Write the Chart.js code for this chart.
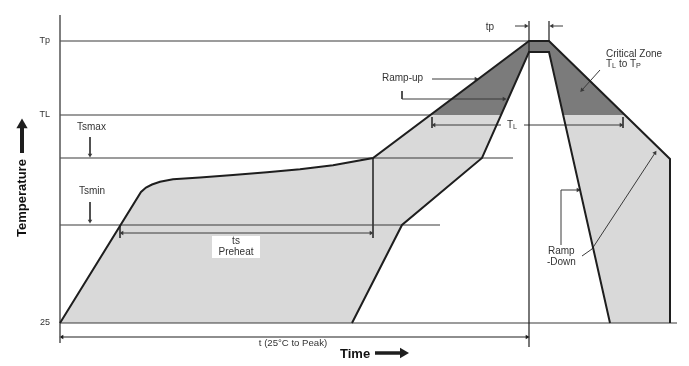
<!DOCTYPE html>
<html>
<head>
<meta charset="utf-8">
<script src="https://cdn.jsdelivr.net/npm/chart.js@4/dist/chart.umd.min.js"></script>
<style>
  html, body { margin: 0; padding: 0; background: #fff; }
</style>
</head>
<body>
<canvas id="profile" width="689" height="366"></canvas>
<script>
// schematic reflow profile: time in arbitrary units from the 25 °C start, temperature in arbitrary degrees
const T25 = 25, TSMIN = 123, TSMAX = 190, TL = 233, TP = 307;
const tPeakStart = 469, tPeakEnd = 489;

// upper (max) profile
const outerProfile = [[0, 25], [81, 156], [86, 160.5], [92, 163.5], [100, 166.3], [113, 168.8], [140, 170.5],
  [173, 173], [207, 175.7], [240, 178.7], [273, 182.7], [313, 190], [469, 307], [489, 307], [610, 189], [610, 25]];
// lower (min) profile
const innerProfile = [[292, 25], [342, 123], [422, 190], [469, 296], [489, 296], [550, 25]];
// part of the band between TL and Tp
const criticalZone = [[370, 233], [469, 307], [489, 307], [565, 233], [503, 233], [489, 296], [469, 296], [441, 233]];

// level lines: [temperature, end time]
const levelLines = [[TP, 469], [TL, 370], [TSMAX, 453], [TSMIN, 380], [T25, 617]];

const axisLine = [[0, 333], [0, 5]];
const peakLine = [[tPeakStart, 327], [tPeakStart, 1]];
const peakEndLine = [[tPeakEnd, 327], [tPeakEnd, 307]];
const tsMarks = [[[60, 123], [60, 110]], [[313, 190], [313, 110]]];
const tsArrow = [[62, 115], [311, 115]];
const tlMarks = [[[372, 231], [372, 220]], [[563, 231], [563, 220]]];
const tlArrow = [[374, 223], [561, 223]];
const tpArrows = [[[455, 322], [466, 322]], [[503, 322], [492, 322]]];
const totalArrow = [[2, 11], [467, 11]];
const rampUpArrow = [[372, 269], [416, 269]];
const rampUpBracket = [[342, 257], [342, 249], [444, 249]];
const criticalArrow = [[540, 278], [522, 258]];
const rampDownBracket = [[501, 103], [501, 158], [518, 158]];
const rampDownArrow = [[522, 92], [532, 99], [595, 195]];
const tsmaxArrow = [[30, 211], [30, 193]];
const tsminArrow = [[30, 146], [30, 127]];
const timeArrow = [[315, -5], [343, -5]];
const tempArrow = [[-38, 195], [-38, 223]];

const xy = pts => pts.map(([x, y]) => ({x, y}));

function area(points, color, order) {
  return {
    data: xy([...points, points[0]]),
    fill: 'shape',
    backgroundColor: color,
    borderColor: 'rgba(0,0,0,0)',
    borderWidth: 0,
    order
  };
}

function stroke(points, width, color, order, heads = [], head = 2.6) {
  return {
    data: xy(points),
    fill: false,
    borderColor: color,
    borderWidth: width,
    order,
    pointStyle: 'triangle',
    pointRadius: points.map((_, i) => heads[i] == null ? 0 : head),
    pointRotation: points.map((_, i) => heads[i] ?? 0),
    pointBackgroundColor: color,
    pointBorderWidth: 0
  };
}

const INK = '#1e1e1e', THIN = '#3a3a3a';

const datasets = [
  stroke(outerProfile, 2, INK, 1),
  stroke(innerProfile, 2, INK, 1),
  stroke(axisLine, 1.5, '#555', 2),
  stroke(peakLine, 1.2, INK, 2),
  stroke(peakEndLine, 1.2, INK, 2),
  ...levelLines.map(([T, end]) => stroke([[0, T], [end, T]], 1.2, THIN, 4)),
  ...tsMarks.map(m => stroke(m, 1, THIN, 3)),
  stroke(tsArrow, 1, THIN, 3, [270, 90]),
  ...tlMarks.map(m => stroke(m, 1, THIN, 3)),
  stroke(tlArrow, 1, THIN, 3, [270, 90]),
  ...tpArrows.map((a, i) => stroke(a, 1, THIN, 3, [null, i ? 270 : 90])),
  stroke(totalArrow, 1.2, INK, 3, [270, 90]),
  stroke(rampUpArrow, 1, THIN, 3, [null, 90]),
  stroke(rampUpBracket, 1, THIN, 3, [null, null, 90]),
  stroke(criticalArrow, 1, THIN, 3, [null, 222]),
  stroke(rampDownBracket, 1, THIN, 3, [null, null, 90]),
  stroke(rampDownArrow, 1, THIN, 3, [null, null, 33]),
  stroke(tsmaxArrow, 1, THIN, 3, [null, 180]),
  stroke(tsminArrow, 1, THIN, 3, [null, 180]),
  stroke(timeArrow, 3.5, INK, 3, [null, 90], 6),
  stroke(tempArrow, 4, INK, 3, [null, 0], 6.5),
  area(criticalZone, '#7b7b7b', 8),
  area(innerProfile, '#ffffff', 9),
  area(outerProfile, '#d9d9d9', 10)
];

// text: '_x' parts are subscripts
const notes = [
  {t: -10, T: TP, text: ['Tp'], size: 9, align: 'right'},
  {t: -10, T: TL, text: ['TL'], size: 9, align: 'right'},
  {t: -10, T: T25, text: ['25'], size: 9, align: 'right'},
  {t: 17, T: 221, text: ['Tsmax'], size: 10},
  {t: 19, T: 157, text: ['Tsmin'], size: 10},
  {t: 176, T: 107, text: ['ts'], size: 10, align: 'center', box: [152, 112, 200, 90]},
  {t: 176, T: 96, text: ['Preheat'], size: 10, align: 'center'},
  {t: 322, T: 270, text: ['Ramp-up'], size: 10},
  {t: 430, T: 321, text: ['tp'], size: 10, align: 'center'},
  {t: 546, T: 294, text: ['Critical Zone'], size: 10},
  {t: 546, T: 284, text: ['T', '_L', ' to T', '_P'], size: 10},
  {t: 452, T: 223, text: ['T', '_L'], size: 10, align: 'center', box: [441, 229, 464, 217]},
  {t: 488, T: 97, text: ['Ramp'], size: 10},
  {t: 487, T: 86, text: ['-Down'], size: 10},
  {t: 233, T: 5, text: ['t (25\u00b0C to Peak)'], size: 9.6, align: 'center'},
  {t: 280, T: -6, text: ['Time'], size: 13, bold: true},
  {t: -38, T: 150, text: ['Temperature'], size: 13, bold: true, align: 'center', rotate: -Math.PI / 2}
];

const notesPlugin = {
  id: 'notes',
  afterDatasetsDraw(chart) {
    const {ctx, scales: {x, y}} = chart;
    ctx.save();
    ctx.textBaseline = 'middle';
    ctx.textAlign = 'left';
    notes.forEach(n => {
      if (n.box) {
        const [t1, T1, t2, T2] = n.box;
        ctx.fillStyle = '#fff';
        ctx.fillRect(x.getPixelForValue(t1), y.getPixelForValue(T1),
          x.getPixelForValue(t2) - x.getPixelForValue(t1), y.getPixelForValue(T2) - y.getPixelForValue(T1));
      }
      const font = s => `${n.bold ? 'bold ' : ''}${s}px "Liberation Sans", Arial, sans-serif`;
      const parts = n.text.map(p => p.startsWith('_') ? {s: p.slice(1), size: n.size * 0.72, dy: n.size * 0.2} : {s: p, size: n.size, dy: 0});
      const widths = parts.map(p => { ctx.font = font(p.size); return ctx.measureText(p.s).width; });
      const total = widths.reduce((a, b) => a + b, 0);
      ctx.save();
      ctx.translate(x.getPixelForValue(n.t), y.getPixelForValue(n.T));
      if (n.rotate) ctx.rotate(n.rotate);
      let cx = n.align === 'center' ? -total / 2 : n.align === 'right' ? -total : 0;
      ctx.fillStyle = n.bold ? '#111' : '#333';
      parts.forEach((p, i) => {
        ctx.font = font(p.size);
        ctx.fillText(p.s, cx, p.dy);
        cx += widths[i];
      });
      ctx.restore();
    });
    ctx.restore();
  }
};

new Chart(document.getElementById('profile').getContext('2d'), {
  type: 'line',
  data: {datasets},
  options: {
    responsive: false,
    animation: false,
    events: [],
    layout: {padding: 0, autoPadding: false},
    elements: {line: {tension: 0}, point: {radius: 0}},
    scales: {
      x: {type: 'linear', display: false, min: -60, max: 629},
      y: {type: 'linear', display: false, min: -18, max: 348}
    },
    plugins: {legend: {display: false}, tooltip: {enabled: false}}
  },
  plugins: [notesPlugin]
});
</script>
</body>
</html>
